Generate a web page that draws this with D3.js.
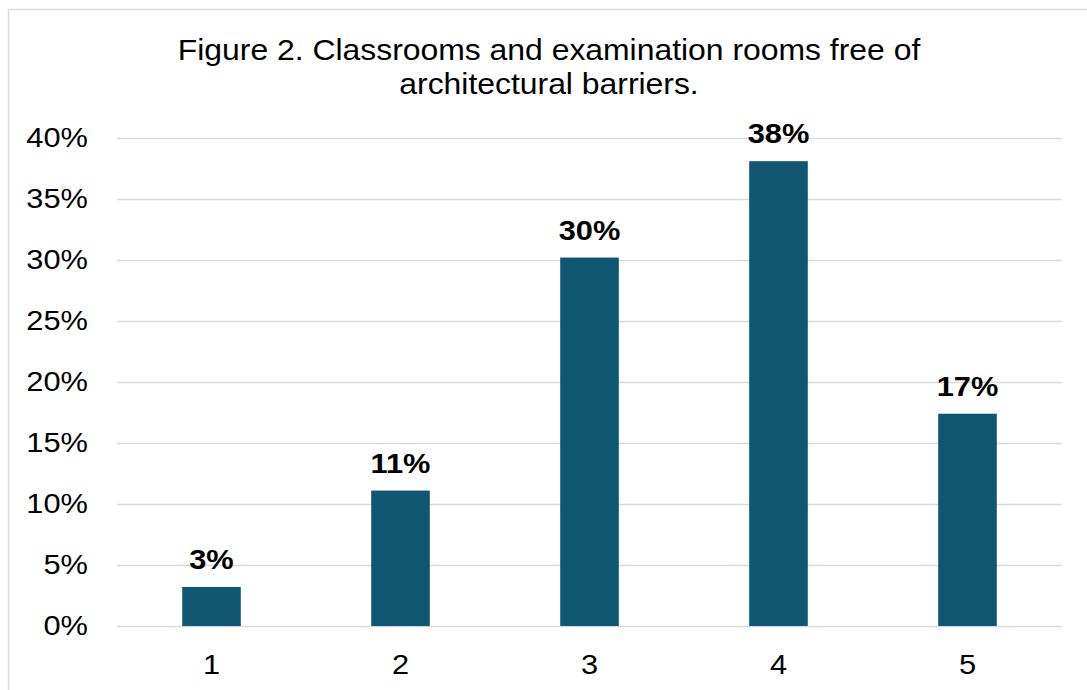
<!DOCTYPE html>
<html>
<head>
<meta charset="utf-8">
<script src="https://cdn.jsdelivr.net/npm/d3@7"></script>
<style>
  body { margin: 0; background: #fff; }
  text { font-family: "Liberation Sans", Arial, sans-serif; }
</style>
</head>
<body>
<div id="svg-container"></div>
<script>
// data
const categories = ["1", "2", "3", "4", "5"];
const values = [3.2, 11.1, 30.2, 38.1, 17.4];
const valueLabels = ["3%", "11%", "30%", "38%", "17%"];
const yTicks = [0, 5, 10, 15, 20, 25, 30, 35, 40];
const titleLines = ["Figure 2. Classrooms and examination rooms free of", "architectural barriers."];

const width = 1087;
const height = 690;
const margin = { top: 138, right: 25, bottom: 64, left: 117 };
const stretch = 1.1; // source text looks a bit wider than plain Arial

const svg = d3.select("#svg-container").append("svg")
  .attr("width", width)
  .attr("height", height);

// chart border
svg.append("rect")
  .attr("x", 8.5).attr("y", 9.5)
  .attr("width", width + 10).attr("height", height + 10)
  .attr("fill", "none")
  .attr("stroke", "#d9d9d9")
  .attr("stroke-width", 1.5);

// scales
const xScale = d3.scaleBand()
  .domain(categories)
  .range([margin.left, width - margin.right])
  .paddingInner(0.69)
  .paddingOuter(0.345);

const yScale = d3.scaleLinear()
  .domain([0, 40])
  .range([height - margin.bottom, margin.top]);

// y axis + grid
const yAxis = svg.append("g")
  .attr("class", "y-axis")
  .attr("transform", `translate(${margin.left},0)`)
  .call(d3.axisLeft(yScale)
    .tickValues(yTicks)
    .tickFormat((d) => d + "%")
    .tickSize(-(width - margin.left - margin.right))
    .tickPadding(29));
yAxis.select(".domain").remove();
yAxis.selectAll("line").attr("stroke", "#d9d9d9").attr("stroke-width", 1.5);
yAxis.selectAll("text")
  .attr("fill", "#000")
  .attr("x", 0)
  .attr("transform", `translate(-29,0) scale(${stretch},1)`)
  .style("font-size", "28px");

// x axis labels
const xAxis = svg.append("g")
  .attr("class", "x-axis")
  .attr("transform", `translate(0,${height - margin.bottom})`)
  .call(d3.axisBottom(xScale).tickSize(0).tickPadding(0));
xAxis.select(".domain").remove();
xAxis.selectAll("text")
  .attr("fill", "#000")
  .attr("y", 0)
  .attr("dy", 0)
  .attr("transform", `translate(0,48) scale(${stretch},1)`)
  .style("font-size", "28px");

// bars
svg.selectAll(".bar")
  .data(values)
  .join("rect")
  .attr("class", "bar")
  .attr("x", (d, i) => xScale(categories[i]))
  .attr("y", (d) => yScale(d))
  .attr("width", xScale.bandwidth())
  .attr("height", (d) => yScale(0) - yScale(d))
  .attr("fill", "#0f5670");

// value labels
svg.selectAll(".val")
  .data(values)
  .join("text")
  .attr("class", "val")
  .attr("transform", (d, i) =>
    `translate(${xScale(categories[i]) + xScale.bandwidth() / 2},${yScale(d) - 18}) scale(${stretch},1)`)
  .attr("text-anchor", "middle")
  .style("font-size", "28px")
  .style("font-weight", "bold")
  .text((d, i) => valueLabels[i]);

// title
svg.append("g")
  .attr("transform", `translate(549,0) scale(${stretch},1)`)
  .selectAll("text")
  .data(titleLines)
  .join("text")
  .attr("x", 0)
  .attr("y", (d, i) => 60 + i * 34)
  .attr("text-anchor", "middle")
  .style("font-size", "29px")
  .text((d) => d);
</script>
</body>
</html>
